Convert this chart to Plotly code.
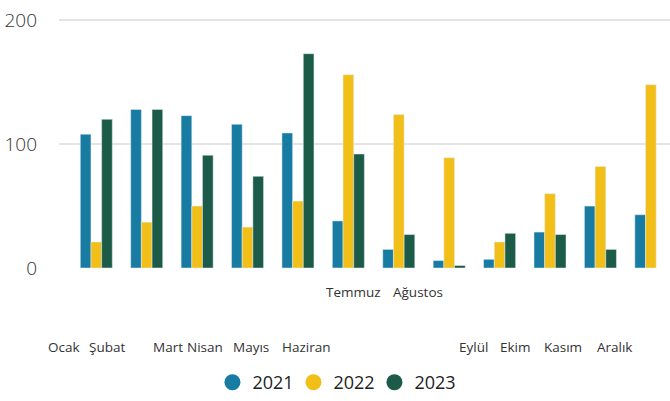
import plotly.graph_objects as go

months = ["Ocak", "Şubat", "Mart", "Nisan", "Mayıs", "Haziran",
          "Temmuz", "Ağustos", "Eylül", "Ekim", "Kasım", "Aralık"]
v2021 = [108, 128, 123, 116, 109, 38, 15, 6, 7, 29, 50, 43]
v2022 = [21, 37, 50, 33, 54, 156, 124, 89, 21, 60, 82, 148]
v2023 = [120, 128, 91, 74, 173, 92, 27, 2, 28, 27, 15, None]
years = ["2021", "2022", "2023"]

colors = ["#187ba2", "#f2bf18", "#1b5b48"]

# layout positions of the month labels (index offsets and rows), as drawn in the source
label_pos = [-0.64, 0.21, 1.42, 2.16, 3.07, 4.16, 5.10, 6.38, 7.49, 8.32, 9.26, 10.27]
label_row = [1, 1, 1, 1, 1, 1, 0, 0, 1, 1, 1, 1]

fig = go.Figure()
for name, vals, c in zip(years, [v2021, v2022, v2023], colors):
    fig.add_trace(go.Bar(x=months, y=vals, name=name, marker_color=c,
                         showlegend=False))
for name, c in zip(years, colors):
    fig.add_trace(go.Scatter(x=[None], y=[None], mode="markers", name=name,
                             marker=dict(color=c, size=20, symbol="circle")))

annotations = []
for m, p, r in zip(months, label_pos, label_row):
    annotations.append(dict(x=p, y=-0.095 if r == 0 else -0.316, xref="x", yref="paper",
                            text=m, showarrow=False, xanchor="center", yanchor="middle",
                            font=dict(size=13.5, color="#333333", family="Open Sans")))

fig.update_layout(
    width=670, height=401,
    margin=dict(l=59, r=0, t=19, b=133, autoexpand=False),
    plot_bgcolor="white", paper_bgcolor="white",
    barmode="group", bargap=0.365, bargroupgap=0,
    font=dict(family="Open Sans", color="#333333"),
    xaxis=dict(range=[-0.74, 11.38], showticklabels=False, showgrid=False,
               zeroline=False, showline=False),
    yaxis=dict(range=[0, 201], tickvals=[0, 100, 200], gridcolor="#e4e4e4",
               gridwidth=1.5, zeroline=False, showline=False,
               tickfont=dict(size=19, color="#333333", family="Open Sans", weight=300),
               ticklabelstandoff=21),
    legend=dict(orientation="h", x=0.45, xanchor="center", y=-0.46, yanchor="middle",
                font=dict(size=18, color="#222222"), itemwidth=30,
                entrywidth=36, entrywidthmode="pixels",
                itemsizing="trace", tracegroupgap=0),
    annotations=annotations,
)
fig.write_html("out.html", config={"displayModeBar": False},
               post_script="document.body.style.margin='0';")
